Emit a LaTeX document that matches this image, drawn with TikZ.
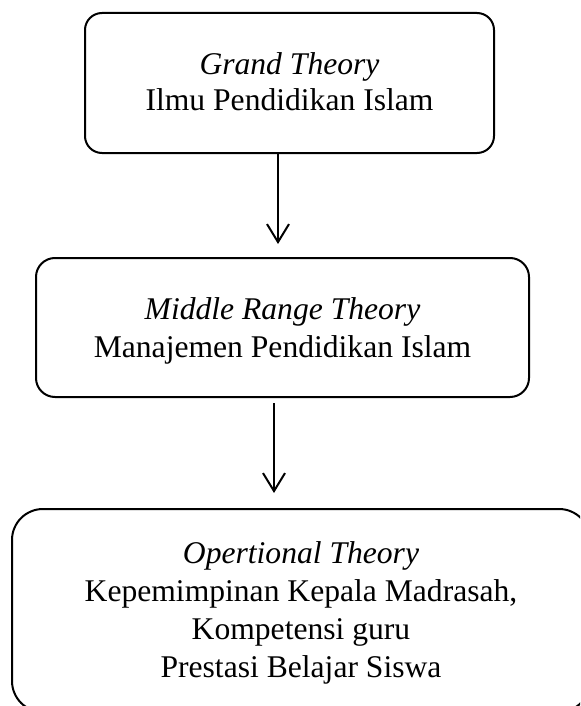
\documentclass[tikz,border=0pt]{standalone}
\usepackage{fontspec}
\setmainfont{Liberation Serif}
\usetikzlibrary{arrows.meta}
\begin{document}
\begin{tikzpicture}[x=0.5pt,y=-0.5pt,
  box/.style={draw, line width=1pt, rounded corners=#1, inner sep=0pt},
  txt/.style={align=center, inner sep=0pt, font=\fontsize{15.8pt}{#1}\selectfont},
  arr/.style={line width=1pt, -{Straight Barb[length=9pt,width=11pt]}}]
\useasboundingbox (0,0) rectangle (580,706);
\clip (0,0) rectangle (580,706);
\node[box=8.5pt, minimum width=204.5pt, minimum height=70pt] (b1) at (289.5,83) {};
\node[box=9.5pt, minimum width=246.5pt, minimum height=69.5pt] (b2) at (282.5,327.5) {};
\node[box=15.5pt, minimum width=289pt, minimum height=101.5pt] (b3) at (301,610.5) {};
\node[txt=18pt] (t1) at (289.5,81.2) {\textit{Grand Theory}\\Ilmu Pendidikan Islam};
\node[txt=19pt] (t2) at (282.5,330.6) {\textit{Middle Range Theory}\\Manajemen Pendidikan Islam};
\node[txt=19pt] (t3) at (301,612.6) {\textit{Opertional Theory}\\Kepemimpinan Kepala Madrasah,\\Kompetensi guru\\Prestasi Belajar Siswa};
\coordinate (c1) at (278,0);
\coordinate (c2) at (274,0);
\draw[arr] (b1.south -| c1) -- ([yshift=6.5pt]b2.north -| c1);
\draw[arr] ([yshift=-2.5pt]b2.south -| c2) -- ([yshift=7.5pt]b3.north -| c2);
\end{tikzpicture}
\end{document}
